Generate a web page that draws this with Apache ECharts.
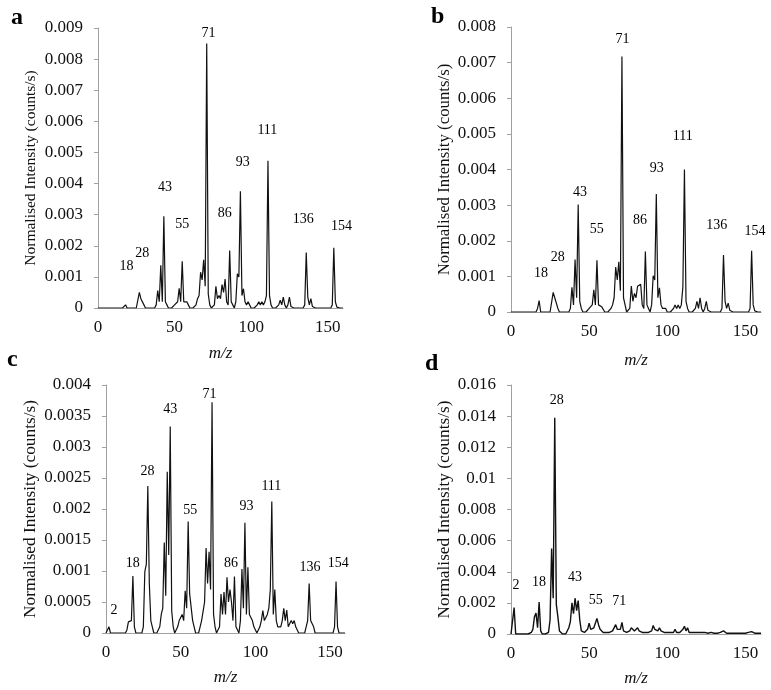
<!DOCTYPE html>
<html>
<head>
<meta charset="utf-8">
<script src="https://cdn.jsdelivr.net/npm/echarts@6/dist/echarts.min.js"></script>
<style>html,body{margin:0;padding:0;background:#fff}#c{width:771px;height:690px}</style>
</head>
<body>
<div id="c"></div>
<script>
// m/z axis positions (integer masses 0..160 shared by all panels)
var mzValues = [
  0,1,2,3,4,5,6,7,8,9,10,11,12,13,14,15,16,17,18,19,
  20,21,22,23,24,25,26,27,28,29,30,31,32,33,34,35,36,37,38,39,
  40,41,42,43,44,45,46,47,48,49,50,51,52,53,54,55,56,57,58,59,
  60,61,62,63,64,65,66,67,68,69,70,71,72,73,74,75,76,77,78,79,
  80,81,82,83,84,85,86,87,88,89,90,91,92,93,94,95,96,97,98,99,
  100,101,102,103,104,105,106,107,108,109,110,111,112,113,114,115,116,117,118,119,
  120,121,122,123,124,125,126,127,128,129,130,131,132,133,134,135,136,137,138,139,
  140,141,142,143,144,145,146,147,148,149,150,151,152,153,154,155,156,157,158,159,160
];

var intensityA = [
  0,0,0,0,0,0,0,0,0,0,
  0,0,0,0,0,0,0,0.00003,0.0001,0,
  0,0,0,0,0,0,0.00005,0.0005,0.0003,0.0003,
  0.0001,0,0,0,0,0,0,0,0.0001,0.00056,
  0.0002,0.00137,0.0002,0.00295,0.0002,0.0001,0,0,0,0,
  0.0001,0.0001,0.0002,0.00063,0.0002,0.0015,0.0002,0.0002,0.0002,0.0001,
  0,0,0,0,0.0001,0.0003,0.0004,0.00115,0.0009,0.00155,
  0.0007,0.0085,0.00045,0.0001,0,0,0.0001,0.0007,0.0003,0.0004,
  0.0003,0.00075,0.0005,0.00093,0.0002,0.0001,0.00185,0.0002,0.0001,0,
  0.0002,0.0011,0.001,0.00375,0.0004,0.00062,0.0002,0.0001,0.0002,0.0001,
  0,0,0,0,0.0001,0.0002,0.0001,0.0002,0.0001,0.0002,
  0.0004,0.00473,0.0004,0.0001,0,0,0,0,0.0001,0.00025,
  0.0001,0.00035,0.0001,0,0.0001,0.00035,0.00005,0,0,0,
  0,0,0,0,0,0.0001,0.00178,0.00035,0.0001,0.0003,
  0.00005,0,0,0,0,0,0,0,0,0,
  0,0,0,0.0001,0.00194,0.0002,0.00003,0,0,0,
  0
];

var intensityB = [
  0,0,0,0,0,0,0,0,0,0,
  0,0,0,0,0,0,0,0.0001,0.00032,0,
  0,0,0,0,0,0,0.00005,0.00055,0.0004,0.00035,
  0.0001,0,0,0,0,0,0,0,0.0001,0.00069,
  0.0002,0.00147,0.0004,0.00302,0.0003,0.0001,0,0,0,0,
  0.0001,0.0001,0.0002,0.00062,0.0002,0.00145,0.0002,0.0002,0.00015,0.0001,
  0,0,0,0,0.0001,0.0002,0.0004,0.00126,0.0009,0.00141,
  0.0006,0.00717,0.0004,0.0002,0,0,0.0001,0.00073,0.0003,0.00052,
  0.0004,0.00072,0.0007,0.00078,0.0002,0.0001,0.0017,0.0002,0.0001,0,
  0.0002,0.00102,0.0009,0.00331,0.0004,0.00068,0.0002,0.0001,0.0001,0.0001,
  0,0,0,0,0.0001,0.0002,0.0001,0.0002,0.0001,0.0002,
  0.0007,0.004,0.0003,0.0001,0,0,0,0,0.0001,0.0003,
  0.0001,0.0004,0.0001,0,0.0001,0.0003,0.00005,0,0,0,
  0,0,0,0,0,0.0001,0.0016,0.0003,0.0001,0.00025,
  0.00005,0,0,0,0,0,0,0,0,0,
  0,0,0,0.0001,0.00172,0.0002,0.00003,0,0,0,
  0
];

var intensityC = [
  0,0,0.0001,0,0,0,0,0,0,0,
  0,0,0,0,0.00005,0.00018,0.00018,0.0002,0.00092,0.0001,
  0,0,0,0,0,0.0001,0.00099,0.00111,0.00237,0.0008,
  0.0002,0.0001,0,0,0,0,0.0001,0.0003,0.0004,0.00146,
  0.0006,0.0026,0.00126,0.00333,0.00035,0.0001,0,0,0.0001,0.0002,
  0.00025,0.0003,0.0002,0.00068,0.0004,0.0018,0.00063,0.0006,0.0002,0.0001,
  0,0,0,0.0001,0.0002,0.00035,0.0005,0.00137,0.0008,0.00131,
  0.0007,0.00372,0.0003,0.0001,0,0,0.0001,0.00063,0.0003,0.00066,
  0.0003,0.0009,0.0005,0.0007,0.0005,0.0002,0.00091,0.0001,0.0001,0,
  0.0002,0.00103,0.0004,0.00178,0.0003,0.00106,0.0003,0.0003,0.0002,0.0001,
  0.0001,0,0,0.0001,0.0002,0.00036,0.0002,0.0002,0.0003,0.0004,
  0.0007,0.00212,0.0003,0.0007,0.0002,0.0001,0.0001,0.0001,0.0002,0.0004,
  0.0002,0.00037,0.0001,0.0001,0.0002,0.00015,0.0002,0.0001,0.0001,0,
  0,0,0,0,0.0001,0.0002,0.0008,0.0002,0.0002,0.0001,
  0,0,0,0,0,0,0,0,0,0,
  0,0,0,0.0001,0.00083,0.0001,0,0,0,0,
  0
];

var intensityD = [
  0,0,0.0017,0,0,0,0,0,0,0,
  0,0,0,0.0001,0.0003,0.0011,0.00135,0.0004,0.00205,0.0002,
  0,0,0,0,0.0001,0.0009,0.0055,0.0023,0.0139,0.0019,
  0.0011,0.0002,0.0001,0,0,0,0.0001,0.0004,0.0008,0.002,
  0.0013,0.0023,0.0015,0.00215,0.0009,0.0002,0.0001,0.0001,0.0002,0.0003,
  0.0007,0.0003,0.0003,0.0004,0.0003,0.001,0.0006,0.0003,0.0002,0.0001,
  0.0001,0.0001,0.0001,0.0001,0.0002,0.0002,0.0003,0.0006,0.0003,0.0004,
  0.0003,0.00075,0.0002,0.0001,0.0001,0.0001,0.0002,0.0004,0.0003,0.0002,
  0.0002,0.0004,0.0002,0.0002,0.0001,0.0001,0.0001,0.0001,0.0001,0.0001,
  0.0002,0.00055,0.0003,0.0004,0.0002,0.0004,0.0002,0.0002,0.0001,0.0001,
  0.0001,0.0001,0.0001,0.0001,0.0001,0.0003,0.0001,0.0001,0.0001,0.0002,
  0.0003,0.0005,0.0002,0.0004,0.0001,0.0001,0.0001,0.0001,0.0001,0.0002,
  0.0001,0.0001,0.0001,0.0001,0.0001,0.0001,0.00005,0.0001,0.0001,0.00005,
  0.00005,0.0001,0.00005,0.00005,0.0001,0.0001,0.0002,0.0001,0.00005,0.00005,
  0.00005,0.00005,0.00005,0.00005,0.00005,0.00005,0.00005,0.00005,0.00005,0.00005,
  0.00005,0.00005,0.0001,0.0001,0.00015,0.0001,0.00005,0.00005,0.00005,0.00005,
  0.00005
];

// Peak annotations: label text, anchor m/z, anchor intensity
var peakLabelsA = ['18','28','43','55','71','86','93','111','136','154'];
var peakLabelMzA = [18.6,28.9,43.7,55,72.2,82.7,94.6,110.6,134.1,159];
var peakLabelYA = [0.00133,0.00176,0.00388,0.0027,0.00883,0.00304,0.00467,0.00572,0.00285,0.00264];

var peakLabelsB = ['18','28','43','55','71','86','93','111','136','154'];
var peakLabelMzB = [19.2,29.9,44.2,54.8,71.3,82.6,93.2,109.9,131.6,156.2];
var peakLabelYB = [0.00109,0.00153,0.00335,0.00232,0.00764,0.00258,0.00404,0.00494,0.00242,0.00226];

var peakLabelsC = ['2','18','28','43','55','71','86','93','111','136','154'];
var peakLabelMzC = [5.4,17.9,27.7,43,56.4,69.3,83.7,94,110.7,136.5,155.5];
var peakLabelYC = [0.00037,0.00113,0.0026,0.0036,0.00198,0.00385,0.00113,0.00205,0.00236,0.00106,0.00113];

var peakLabelsD = ['2','18','28','43','55','71'];
var peakLabelMzD = [3.2,17.9,29.2,41,54.2,69.3];
var peakLabelYD = [0.0031,0.00332,0.01504,0.00362,0.00219,0.00208];

var panelLetters = ['a','b','c','d'];
var yMaxes = [0.009, 0.008, 0.004, 0.016];
var yIntervals = [0.001, 0.001, 0.0005, 0.002];
var xTickInterval = 50;
var xMax = 160;
var yTitle = 'Normalised Intensity (counts/s)';
var xTitle = 'm/z';

var FONT = '"Liberation Serif", "DejaVu Serif", serif';
var TXT = '#111';

var grids = [
  {left: 98, top: 28, width: 245, height: 280},
  {left: 511, top: 27, width: 250, height: 285},
  {left: 106, top: 385, width: 239, height: 248},
  {left: 511, top: 385, width: 250, height: 249}
];
var yNameGaps = [59, 58, 67, 58];
var xNameGaps = [37, 40, 36, 36];
var yTitleSizes = [15.5, 16.8, 17.3, 17.3];
var letterPos = [[18,19],[438,18],[14,361],[432,365]];

var intensities = [intensityA, intensityB, intensityC, intensityD];
var labelSets = [
  [peakLabelsA, peakLabelMzA, peakLabelYA],
  [peakLabelsB, peakLabelMzB, peakLabelYB],
  [peakLabelsC, peakLabelMzC, peakLabelYC],
  [peakLabelsD, peakLabelMzD, peakLabelYD]
];

var xAxes = [], yAxes = [], series = [], graphics = [];
for (var p = 0; p < 4; p++) {
  xAxes.push({
    type: 'value', gridIndex: p, min: 0, max: xMax, interval: xTickInterval,
    name: xTitle, nameLocation: 'middle', nameGap: xNameGaps[p],
    nameTextStyle: {fontFamily: FONT, fontStyle: 'italic', fontSize: 17, color: TXT},
    axisLine: {show: true, lineStyle: {color: '#a0a0a0', width: 1}},
    axisTick: {show: false},
    splitLine: {show: false},
    axisLabel: {fontFamily: FONT, fontSize: 17, color: TXT, margin: 11, showMaxLabel: false}
  });
  yAxes.push({
    type: 'value', gridIndex: p, min: 0, max: yMaxes[p], interval: yIntervals[p],
    name: yTitle, nameLocation: 'middle', nameGap: yNameGaps[p], nameRotate: 90,
    nameTextStyle: {fontFamily: FONT, fontSize: yTitleSizes[p], color: TXT},
    axisLine: {show: true, lineStyle: {color: '#a0a0a0', width: 1}},
    axisTick: {show: true, inside: false, length: 4, lineStyle: {color: '#a0a0a0'}},
    splitLine: {show: false},
    axisLabel: {fontFamily: FONT, fontSize: 17, color: TXT, margin: 15}
  });
  var pts = [];
  for (var i = 0; i < mzValues.length; i++) pts.push([mzValues[i], intensities[p][i]]);
  series.push({
    type: 'line', xAxisIndex: p, yAxisIndex: p, data: pts,
    showSymbol: false, symbol: 'none', smooth: false, animation: false,
    lineStyle: {color: '#111', width: p === 3 ? 1.4 : 1.2}
  });
  var ls = labelSets[p], lp = [];
  for (var j = 0; j < ls[0].length; j++) lp.push({value: [ls[1][j], ls[2][j]], name: ls[0][j]});
  series.push({
    type: 'scatter', xAxisIndex: p, yAxisIndex: p, data: lp, symbolSize: 0, clip: false,
    animation: false, silent: true, itemStyle: {opacity: 1},
    label: {show: true, position: 'inside', formatter: '{b}', fontFamily: FONT, fontSize: 14,
            color: '#000', textBorderWidth: 0, opacity: 1}
  });
  graphics.push({
    type: 'text', left: letterPos[p][0] - 7, top: letterPos[p][1] - 13,
    style: {text: panelLetters[p], font: 'bold 24px ' + FONT, fill: '#000'}
  });
}

var chart = echarts.init(document.getElementById('c'), null, {renderer: 'canvas'});
chart.setOption({
  backgroundColor: '#fff',
  animation: false,
  grid: grids,
  xAxis: xAxes,
  yAxis: yAxes,
  series: series,
  graphic: graphics
});
</script>
</body>
</html>
